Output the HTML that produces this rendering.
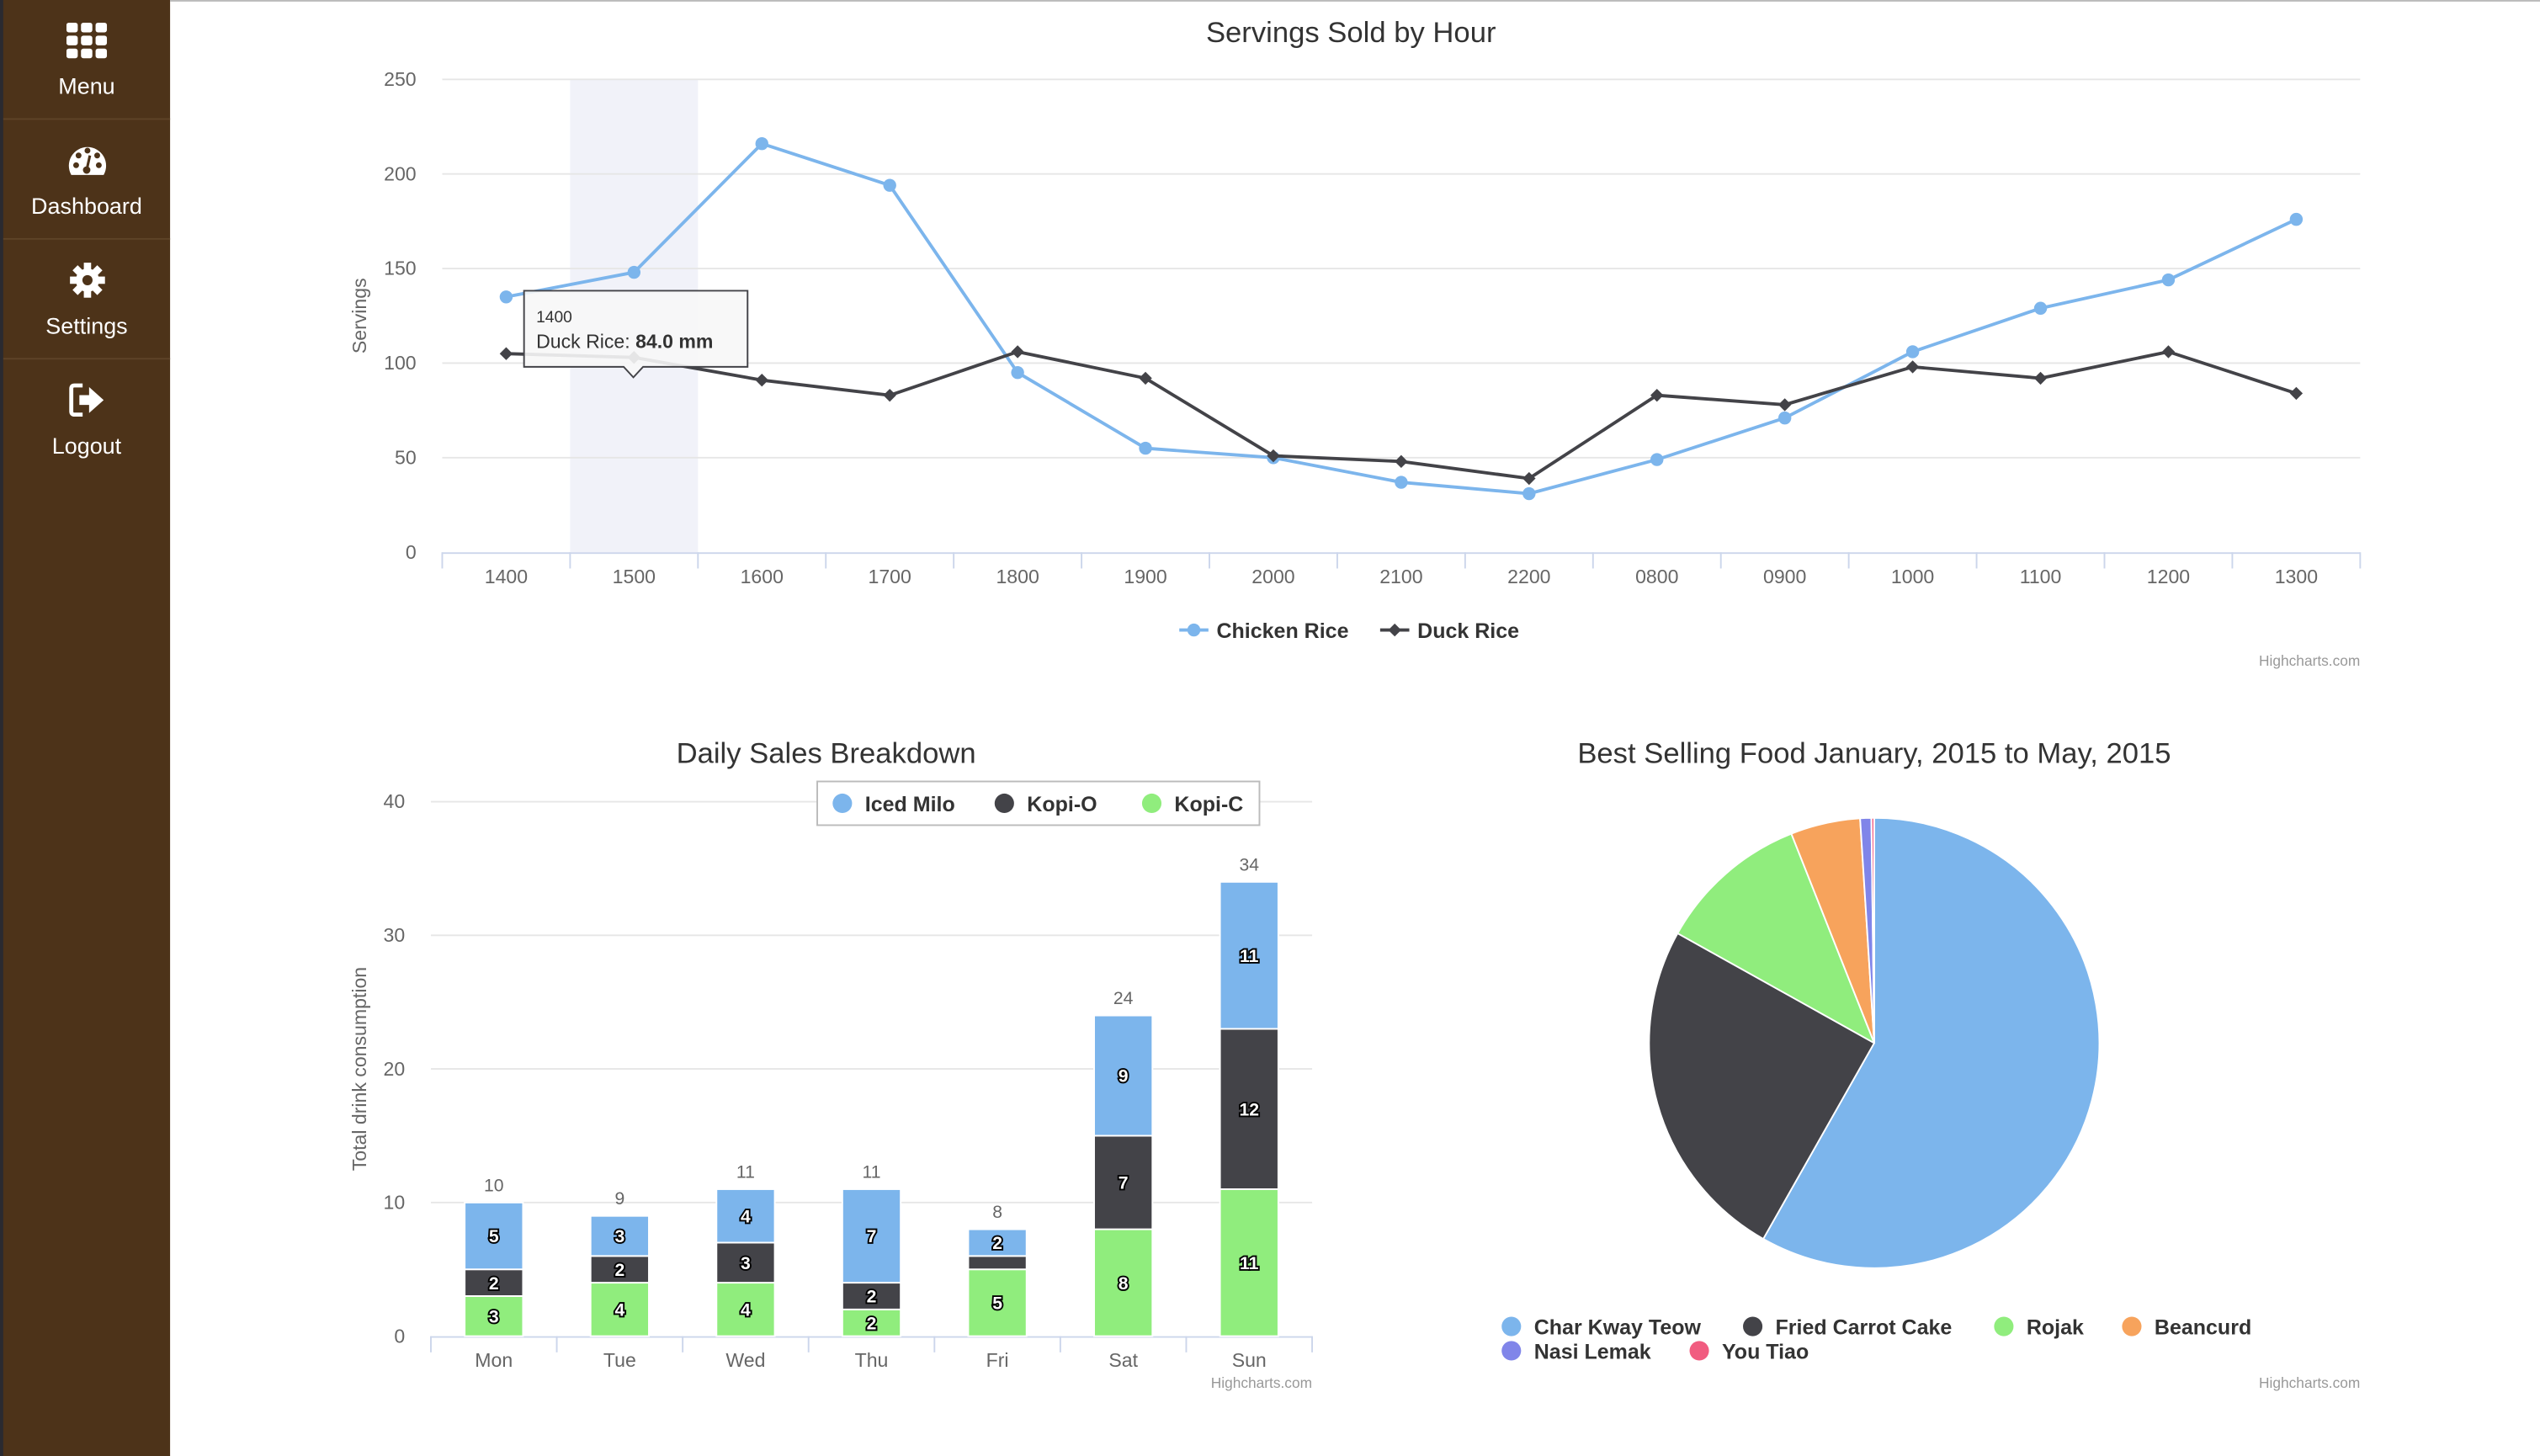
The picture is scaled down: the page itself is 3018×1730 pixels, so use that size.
<!DOCTYPE html>
<html><head><meta charset="utf-8"><style>
html,body{margin:0;padding:0;background:#fff;overflow:hidden}
body{width:3018px;height:1730px}
#root{position:absolute;left:0;top:0;width:1568px;height:899px;transform:scale(1.92474,1.92436);transform-origin:0 0;font-family:"Liberation Sans",sans-serif}
#side{position:absolute;left:0;top:0;width:105px;height:899px;background:#4d3319;border-left:2px solid #2a2a30;box-sizing:border-box}
.nav{height:74px;border-bottom:1px solid #5e4428;color:#fff;text-align:center;font-size:14px;box-sizing:border-box;padding-top:13px}
.nav svg{display:block;margin:0 auto 8px}
svg text{font-family:"Liberation Sans",sans-serif}
</style></head><body>
<div id="root">
<div id="side">
 <div class="nav"><svg width="26" height="24" viewBox="0 0 26 24"><g fill="#fff"><rect x="0" y="1" width="7" height="6" rx="1.5"/><rect x="9" y="1" width="7" height="6" rx="1.5"/><rect x="18" y="1" width="7" height="6" rx="1.5"/><rect x="0" y="9" width="7" height="6" rx="1.5"/><rect x="9" y="9" width="7" height="6" rx="1.5"/><rect x="18" y="9" width="7" height="6" rx="1.5"/><rect x="0" y="17" width="7" height="6" rx="1.5"/><rect x="9" y="17" width="7" height="6" rx="1.5"/><rect x="18" y="17" width="7" height="6" rx="1.5"/></g></svg>Menu</div>
 <div class="nav"><svg width="26" height="24" viewBox="0 0 26 24"><path d="M3 21 A11.5 11.5 0 1 1 23 21 Z" fill="#fff"/><g fill="#4d3319"><circle cx="6" cy="15" r="1.8"/><circle cx="7.5" cy="9" r="1.8"/><circle cx="13" cy="6" r="1.8"/><circle cx="19" cy="9" r="1.8"/><circle cx="20" cy="15" r="1.8"/><circle cx="12.5" cy="18" r="2.3"/><path d="M12.5 18 L14.5 9" stroke="#4d3319" stroke-width="1.6"/></g></svg>Dashboard</div>
 <div class="nav"><svg width="26" height="24" viewBox="0 0 26 24"><g transform="translate(13,12) scale(0.9)"><g fill="#fff"><circle r="8"/><rect x="-2.5" y="-12" width="5" height="24"/><rect x="-12" y="-2.5" width="24" height="5"/><rect x="-2.5" y="-12" width="5" height="24" transform="rotate(45)"/><rect x="-2.5" y="-12" width="5" height="24" transform="rotate(-45)"/></g><circle r="3.5" fill="#4d3319"/></g></svg>Settings</div>
 <div class="nav" style="border-bottom:none"><svg width="26" height="24" viewBox="0 0 26 24"><path d="M10 3 H5 Q3 3 3 5 V19 Q3 21 5 21 H10" fill="none" stroke="#fff" stroke-width="2.5"/><path d="M8 9 H14 V4 L23 12 L14 20 V15 H8 Z" fill="#fff"/></svg>Logout</div>
</div>
<div style="position:absolute;left:105px;top:0;width:1463px;height:1px;background:#bbb"></div>
<svg id="chart" width="1568" height="899" style="position:absolute;left:0;top:0"></svg>
</div>
<script>
// ---- Line chart data
const hours = ["1400","1500","1600","1700","1800","1900","2000","2100","2200","0800","0900","1000","1100","1200","1300"];
const chickenRice = [135,148,216,194,95,55,50,37,31,49,71,106,129,144,176];
const duckRice = [105,103,91,83,106,92,51,48,39,83,78,98,92,106,84];
const lineTicks = [0,50,100,150,200,250];
// ---- Bar chart data
const days = ["Mon","Tue","Wed","Thu","Fri","Sat","Sun"];
const icedMilo = [5,3,4,7,2,9,11];
const kopiO = [2,2,3,2,1,7,12];
const kopiC = [3,4,4,2,5,8,11];
const barTicks = [0,10,20,30,40];
// ---- Pie data
const foods = ["Char Kway Teow","Fried Carrot Cake","Rojak","Beancurd","Nasi Lemak","You Tiao"];
const foodShares = [58.2,24.9,10.9,5.0,0.8,0.2];

const NS="http://www.w3.org/2000/svg";
const svg=document.getElementById('chart');
function mk(tag,attrs,parent,txt){const e=document.createElementNS(NS,tag);for(const k in attrs)e.setAttribute(k,attrs[k]);if(txt!==undefined)e.textContent=txt;(parent||svg).appendChild(e);return e;}
const BLUE="#7cb5ec",DARK="#434348",GREEN="#90ed7d",ORANGE="#f7a35c",PURPLE="#8085e9",PINK="#f15c80";

// ===== Line chart
const L={x0:273,x1:1457,y0:341,y1:49,max:250};
const lx=i=>L.x0+(i+0.5)*(L.x1-L.x0)/hours.length;
const ly=v=>L.y0-(v/L.max)*(L.y0-L.y1);
const lg=mk('g',{});


let t=mk('text',{x:834,y:26,'text-anchor':'middle','font-size':18,fill:'#333'},lg,'Servings Sold by Hour');

const bw=(L.x1-L.x0)/hours.length;
let hb=mk('rect',{x:L.x0+bw,y:L.y1,width:bw,height:L.y0-L.y1,fill:'#f1f2f9'},lg);

lineTicks.forEach(v=>{
  if(v>0){const g=mk('line',{x1:L.x0,x2:L.x1,y1:ly(v),y2:ly(v),stroke:'#e6e6e6'},lg);}
  const tt=mk('text',{x:257,y:ly(v)+4,'text-anchor':'end','font-size':12,fill:'#666'},lg,v);
  
});
mk('line',{x1:L.x0,x2:L.x1,y1:L.y0+0.5,y2:L.y0+0.5,stroke:'#ccd6eb'},lg);
hours.forEach((h,i)=>{
  mk('line',{x1:L.x0+i*bw,x2:L.x0+i*bw,y1:L.y0,y2:L.y0+10,stroke:'#ccd6eb'},lg);
  const tt=mk('text',{x:lx(i),y:360,'text-anchor':'middle','font-size':12,fill:'#666'},lg,h);
  
});
mk('line',{x1:L.x1,x2:L.x1,y1:L.y0,y2:L.y0+10,stroke:'#ccd6eb'},lg);
t=mk('text',{x:226,y:195,'text-anchor':'middle','font-size':12,fill:'#666',transform:'rotate(-90 226 195)'},lg,'Servings');

function series(vals,color,name,marker){
  const p=mk('polyline',{points:vals.map((v,i)=>lx(i)+','+ly(v)).join(' '),fill:'none',stroke:color,'stroke-width':2},lg);
  
  vals.forEach((v,i)=>{
    let m;
    if(marker==='circle')m=mk('circle',{cx:lx(i),cy:ly(v),r:4,fill:color},lg);
    else {const x=lx(i),y=ly(v);m=mk('path',{d:`M${x} ${y-4}L${x+4} ${y}L${x} ${y+4}L${x-4} ${y}Z`,fill:color},lg);}
    
  });
}
series(chickenRice,BLUE,'chicken-rice','circle');
series(duckRice,DARK,'duck-rice','diamond');
// legend
let leg=mk('g',{},lg);
mk('line',{x1:728,x2:746,y1:389,y2:389,stroke:BLUE,'stroke-width':2},leg);mk('circle',{cx:737,cy:389,r:4,fill:BLUE},leg);
mk('text',{x:751,y:394,'font-size':13,'font-weight':'bold',fill:'#333'},leg,'Chicken Rice');
mk('line',{x1:852,x2:870,y1:389,y2:389,stroke:DARK,'stroke-width':2},leg);mk('path',{d:'M861 385L865 389L861 393L857 389Z',fill:DARK},leg);
mk('text',{x:875,y:394,'font-size':13,'font-weight':'bold',fill:'#333'},leg,'Duck Rice');
mk('text',{x:1457,y:411,'text-anchor':'end','font-size':9,fill:'#999'},lg,'Highcharts.com');
// tooltip
let tip=mk('g',{},lg);
mk('path',{d:'M323.5 179.5H461.5V226.5H397L391 233L385 226.5H323.5Z',fill:'rgba(247,247,247,0.9)',stroke:DARK,'stroke-width':1},tip);
mk('text',{x:331,y:199,'font-size':10,fill:'#333'},tip,'1400');
let tx=mk('text',{x:331,y:215,'font-size':12,fill:'#333'},tip,'Duck Rice: ');
mk('tspan',{'font-weight':'bold'},tx,'84.0 mm');

// ===== Bar chart
const B={x0:266,x1:810,y0:825,y1:495,max:40};
const bcw=(B.x1-B.x0)/days.length;
const bx=i=>B.x0+(i+0.5)*bcw;
const by=v=>B.y0-(v/B.max)*(B.y0-B.y1);
const bg=mk('g',{});
t=mk('text',{x:510,y:471,'text-anchor':'middle','font-size':18,fill:'#333'},bg,'Daily Sales Breakdown');

barTicks.forEach(v=>{
  if(v>0){const g=mk('line',{x1:B.x0,x2:B.x1,y1:by(v),y2:by(v),stroke:'#e6e6e6'},bg);}
  const tt=mk('text',{x:250,y:by(v)+4,'text-anchor':'end','font-size':12,fill:'#666'},bg,v);
  
});
mk('line',{x1:B.x0,x2:B.x1,y1:B.y0+0.5,y2:B.y0+0.5,stroke:'#ccd6eb'},bg);
days.forEach((d,i)=>{
  mk('line',{x1:B.x0+i*bcw,x2:B.x0+i*bcw,y1:B.y0,y2:B.y0+10,stroke:'#ccd6eb'},bg);
  const tt=mk('text',{x:bx(i),y:844,'text-anchor':'middle','font-size':12,fill:'#666'},bg,d);
  
});
mk('line',{x1:B.x1,x2:B.x1,y1:B.y0,y2:B.y0+10,stroke:'#ccd6eb'},bg);
t=mk('text',{x:226,y:660,'text-anchor':'middle','font-size':12,fill:'#666',transform:'rotate(-90 226 660)'},bg,'Total drink consumption');

const stacks=[[kopiC,GREEN,'kopi-c'],[kopiO,DARK,'kopi-o'],[icedMilo,BLUE,'iced-milo']];
days.forEach((d,i)=>{
  let base=0;
  stacks.forEach(([vals,col,name])=>{
    const v=vals[i];const top=by(base+v),bot=by(base);
    const r=mk('rect',{x:bx(i)-18,y:top,width:36,height:bot-top,fill:col,stroke:'#fff','stroke-width':1},bg);
    
    if(bot-top>10){
      const lt=mk('text',{x:bx(i),y:(top+bot)/2+4,'text-anchor':'middle','font-size':11,'font-weight':'bold',fill:'#fff',stroke:'#000','stroke-width':2,'paint-order':'stroke'},bg,v);
      
    }
    base+=v;
  });
  const st=mk('text',{x:bx(i),y:by(base)-7,'text-anchor':'middle','font-size':11,fill:'#666'},bg,base);
  
});
leg=mk('g',{},bg);
mk('rect',{x:504.5,y:482.5,width:273,height:27,fill:'#fff',stroke:'#bbb'},leg);
[[BLUE,'Iced Milo',520],[DARK,'Kopi-O',620],[GREEN,'Kopi-C',711]].forEach(([c,n,x])=>{
  mk('circle',{cx:x,cy:496,r:6,fill:c},leg);
  mk('text',{x:x+14,y:501,'font-size':13,'font-weight':'bold',fill:'#333'},leg,n);
});
mk('text',{x:810,y:857,'text-anchor':'end','font-size':9,fill:'#999'},bg,'Highcharts.com');

// ===== Pie chart
const pg=mk('g',{});
t=mk('text',{x:1157,y:471,'text-anchor':'middle','font-size':18,fill:'#333'},pg,'Best Selling Food January, 2015 to May, 2015');

const pieColors=[BLUE,DARK,GREEN,ORANGE,PURPLE,PINK];
const cx=1157,cy=644,R=139;
const total=foodShares.reduce((a,b)=>a+b,0);
let ang=0;
foodShares.forEach((v,i)=>{
  const a0=ang,a1=ang+v/total*2*Math.PI;ang=a1;
  const p0=[cx+R*Math.sin(a0),cy-R*Math.cos(a0)],p1=[cx+R*Math.sin(a1),cy-R*Math.cos(a1)];
  const large=(a1-a0)>Math.PI?1:0;
  const s=mk('path',{d:`M${cx} ${cy}L${p0[0]} ${p0[1]}A${R} ${R} 0 ${large} 1 ${p1[0]} ${p1[1]}Z`,fill:pieColors[i],stroke:'#fff','stroke-width':1,'stroke-linejoin':'round'},pg);
  
});
leg=mk('g',{},pg);
const legPos=[[933,819],[1082,819],[1237,819],[1316,819],[933,834],[1049,834]];
foods.forEach((f,i)=>{
  mk('circle',{cx:legPos[i][0],cy:legPos[i][1],r:6,fill:pieColors[i]},leg);
  mk('text',{x:legPos[i][0]+14,y:legPos[i][1]+5,'font-size':13,'font-weight':'bold',fill:'#333'},leg,f);
});
mk('text',{x:1457,y:857,'text-anchor':'end','font-size':9,fill:'#999'},pg,'Highcharts.com');
</script>
</body></html>
